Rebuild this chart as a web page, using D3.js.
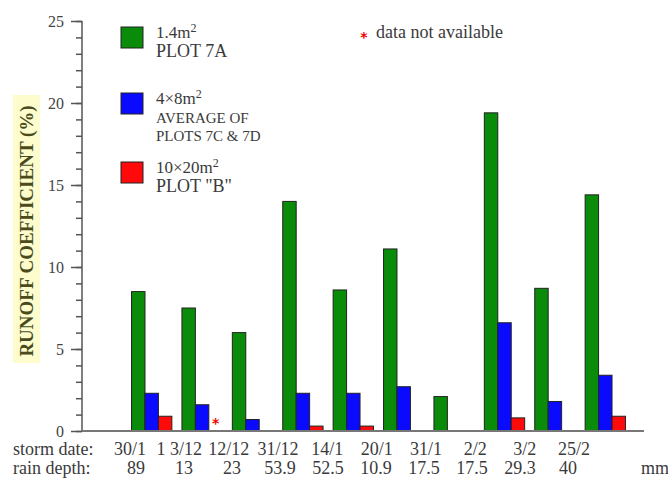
<!DOCTYPE html>
<html><head><meta charset="utf-8">
<script src="https://cdn.jsdelivr.net/npm/d3@7"></script>
<style>body{margin:0;background:#fff}svg{display:block}</style>
</head><body>
<script>
// ---- data ----
const stormDates = ["30/1", "1 3/12", "12/12", "31/12", "14/1", "20/1", "31/1", "2/2", "3/2", "25/2"];
const rainDepths = ["89", "13", "23", "53.9", "52.5", "10.9", "17.5", "17.5", "29.3", "40"];
const seriesNames = ["PLOT 7A", "AVERAGE OF PLOTS 7C & 7D", "PLOT \"B\""];
const plot7A   = [8.5, 7.5, 6.0, 14.0, 8.6, 11.1, 2.1, 19.4, 8.7, 14.4];
const plot7CD  = [2.3, 1.6, 0.7, 2.3, 2.3, 2.7, null, 6.6, 1.8, 3.4];
const plotB    = [0.9, null, null, 0.3, 0.3, null, null, 0.8, null, 0.9];
const notAvailable = [{group: 1, series: 2}];
const yTicks = [0, 5, 10, 15, 20, 25];

const W = 668, H = 478;
const colors = ["#0a8c0a", "#0a0aff", "#ff0a0a"];
const series = [plot7A, plot7CD, plotB];
const font = "'Liberation Serif', 'Times New Roman', serif";

const svg = d3.select("body").append("svg").attr("width", W).attr("height", H);

const y = d3.scaleLinear().domain([0, 25]).range([431, 21]);
const x = d3.scaleBand().domain(d3.range(stormDates.length)).range([126.5, 630.5]).paddingInner(0.2).paddingOuter(0.1);
const xs = d3.scaleBand().domain(d3.range(series.length)).range([0, x.bandwidth()]);

// y-axis title with highlight
svg.append("rect").attr("x", 13).attr("y", 95).attr("width", 27).attr("height", 268).attr("fill", "#fcfccc");
svg.append("text").attr("transform", "translate(33,231) rotate(-90)")
  .attr("text-anchor", "middle").attr("font-family", font)
  .attr("font-weight", "bold").attr("font-size", 19).attr("fill", "#4a4a1c")
  .text("RUNOFF COEFFICIENT (%)");

// y axis
const yAxis = d3.axisLeft(y).tickValues(yTicks).tickSize(11).tickPadding(7);
const gy = svg.append("g").attr("transform", "translate(82,0)").call(yAxis);
gy.select(".domain").remove();
gy.selectAll(".tick line").attr("stroke", "#555").attr("stroke-width", 1.5);
gy.selectAll(".tick text").attr("font-family", font).attr("font-size", 16).attr("fill", "#444");
const gyMinor = svg.append("g").attr("transform", "translate(82,0)")
  .call(d3.axisLeft(y).ticks(25).tickSize(6).tickFormat(""));
gyMinor.select(".domain").remove();
gyMinor.selectAll(".tick line").attr("stroke", "#555").attr("stroke-width", 1.5);
svg.append("line").attr("x1", 82).attr("x2", 82).attr("y1", y(25)).attr("y2", y(0))
  .attr("stroke", "#555").attr("stroke-width", 1.5);

// bars
const bars = [];
series.forEach((vals, s) => vals.forEach((v, g) => { if (v != null && v > 0) bars.push({g, s, v}); }));
svg.append("g").selectAll("rect").data(bars).join("rect")
  .attr("x", d => x(d.g) + xs(d.s))
  .attr("width", xs.bandwidth())
  .attr("y", d => y(d.v))
  .attr("height", d => y(0) - y(d.v))
  .attr("fill", d => colors[d.s])
  .attr("stroke", "#222").attr("stroke-width", 1);

// not available markers
svg.append("g").selectAll("text").data(notAvailable).join("text")
  .attr("x", d => x(d.group) + xs(d.series) + xs.bandwidth() / 2)
  .attr("y", y(0) - 3)
  .attr("text-anchor", "middle").attr("font-family", "DejaVu Sans, sans-serif")
  .attr("font-weight", "bold").attr("font-size", 14).attr("fill", "#e00").text("*");

// x baseline
svg.append("line").attr("x1", 82).attr("x2", 644).attr("y1", y(0)).attr("y2", y(0))
  .attr("stroke", "#777").attr("stroke-width", 2);

// bottom labels
const dateX = d3.scalePoint().domain(d3.range(stormDates.length)).range([130, 574]);
const rainX = d3.scalePoint().domain(d3.range(rainDepths.length)).range([136, 568]);
svg.append("text").attr("x", 13).attr("y", 455).attr("font-family", font).attr("font-size", 18).attr("fill", "#3a3a3a").text("storm date:");
svg.append("text").attr("x", 13).attr("y", 474).attr("font-family", font).attr("font-size", 18).attr("fill", "#3a3a3a").text("rain depth:");
svg.append("g").selectAll("text").data(stormDates).join("text")
  .attr("x", (d, i) => dateX(i)).attr("y", 455).attr("text-anchor", "middle")
  .attr("font-family", font).attr("font-size", 18).attr("fill", "#3a3a3a").text(d => d);
svg.append("g").selectAll("text").data(rainDepths).join("text")
  .attr("x", (d, i) => rainX(i)).attr("y", 474).attr("text-anchor", "middle")
  .attr("font-family", font).attr("font-size", 18).attr("fill", "#3a3a3a").text(d => d);
svg.append("text").attr("x", 655).attr("y", 474).attr("text-anchor", "middle")
  .attr("font-family", font).attr("font-size", 18).attr("fill", "#3a3a3a").text("mm");

// legend
const legend = [
  {area: "1.4m", lines: ["PLOT 7A"], size: 18, top: 27},
  {area: "4×8m", lines: ["AVERAGE OF", "PLOTS 7C & 7D"], size: 15, top: 93},
  {area: "10×20m", lines: ["PLOT \"B\""], size: 18, top: 162}
];
const lg = svg.append("g");
legend.forEach((L, i) => {
  lg.append("rect").attr("x", 121).attr("y", L.top).attr("width", 22).attr("height", 21)
    .attr("fill", colors[i]).attr("stroke", "#222").attr("stroke-width", 1);
  const t = lg.append("text").attr("x", 156).attr("y", L.top + 11)
    .attr("font-family", font).attr("font-size", 17).attr("fill", "#3a3a3a");
  t.append("tspan").text(L.area);
  t.append("tspan").attr("dy", -6).attr("font-size", 12).text("2");
  L.lines.forEach((ln, k) => {
    lg.append("text").attr("x", 156).attr("y", L.top + 30 + k * 18)
      .attr("font-family", font).attr("font-size", L.size).attr("fill", "#3a3a3a").text(ln);
  });
});
svg.append("text").attr("x", 364).attr("y", 42).attr("text-anchor", "middle")
  .attr("font-family", "DejaVu Sans, sans-serif").attr("font-weight", "bold").attr("font-size", 14).attr("fill", "#e00").text("*");
svg.append("text").attr("x", 376).attr("y", 38).attr("font-family", font).attr("font-size", 18)
  .attr("fill", "#3a3a3a").text("data not available");
</script>
</body></html>
